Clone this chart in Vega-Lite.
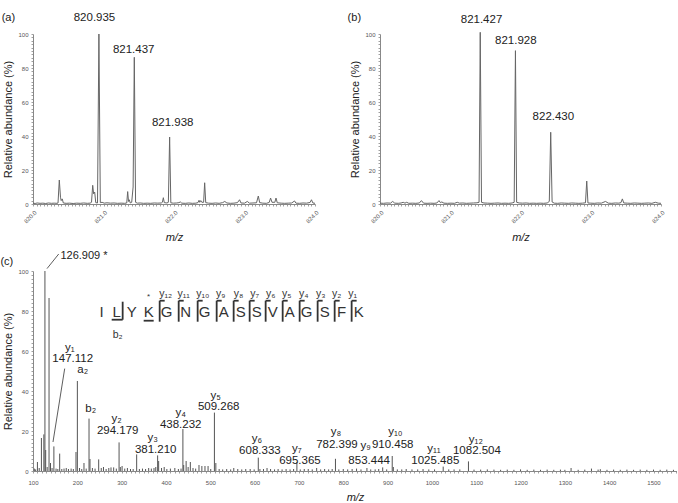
{
"$schema": "https://vega.github.io/schema/vega-lite/v6.json",
"padding": {"left": 0, "top": 12, "right": 0, "bottom": 0},
"config": {
  "view": {"stroke": null},
  "font": "Liberation Sans",
  "axis": {"grid": false, "domainColor": "#888", "domainWidth": 1, "tickColor": "#888", "tickSize": 2, "tickWidth": 0.8, "labelColor": "#555", "labelFont": "Liberation Sans", "labelFontSize": 6, "titleFont": "Liberation Sans", "titleFontSize": 11, "titleFontWeight": "normal", "titleColor": "#222", "labelOverlap": false},
  "text": {"font": "Liberation Sans", "color": "#222"}
},
"datasets": {
  "specA": [
{"mz":820.00,"ab":0.5},{"mz":820.03,"ab":0.3},{"mz":820.06,"ab":0.6},{"mz":820.10,"ab":0.4},{"mz":820.14,"ab":0.5},{"mz":820.18,"ab":0.3},{"mz":820.22,"ab":0.6},{"mz":820.26,"ab":0.4},{"mz":820.30,"ab":0.5},{"mz":820.34,"ab":0.4},{"mz":820.355,"ab":0.6},{"mz":820.373,"ab":14.1},{"mz":820.39,"ab":4},{"mz":820.40,"ab":2},{"mz":820.415,"ab":3},{"mz":820.43,"ab":0.6},{"mz":820.47,"ab":0.4},{"mz":820.52,"ab":0.5},{"mz":820.57,"ab":0.3},{"mz":820.62,"ab":0.5},{"mz":820.67,"ab":0.4},{"mz":820.72,"ab":0.6},{"mz":820.77,"ab":0.4},{"mz":820.81,"ab":0.5},{"mz":820.83,"ab":1},{"mz":820.847,"ab":11},{"mz":820.86,"ab":6},{"mz":820.875,"ab":7},{"mz":820.89,"ab":0.8},{"mz":820.915,"ab":0.6},{"mz":820.935,"ab":100},{"mz":820.955,"ab":0.8},{"mz":820.98,"ab":1},{"mz":821.01,"ab":0.5},{"mz":821.05,"ab":0.7},{"mz":821.10,"ab":0.5},{"mz":821.15,"ab":0.6},{"mz":821.20,"ab":0.4},{"mz":821.25,"ab":0.5},{"mz":821.30,"ab":0.4},{"mz":821.33,"ab":0.6},{"mz":821.343,"ab":7.3},{"mz":821.355,"ab":1.5},{"mz":821.365,"ab":2.5},{"mz":821.38,"ab":0.6},{"mz":821.40,"ab":1},{"mz":821.42,"ab":10},{"mz":821.437,"ab":86.3},{"mz":821.455,"ab":1},{"mz":821.48,"ab":0.5},{"mz":821.52,"ab":0.6},{"mz":821.57,"ab":0.4},{"mz":821.62,"ab":0.5},{"mz":821.67,"ab":0.4},{"mz":821.72,"ab":0.6},{"mz":821.77,"ab":0.5},{"mz":821.82,"ab":0.6},{"mz":821.835,"ab":1},{"mz":821.849,"ab":3.7},{"mz":821.862,"ab":0.8},{"mz":821.90,"ab":0.6},{"mz":821.92,"ab":1},{"mz":821.938,"ab":39.4},{"mz":821.955,"ab":0.7},{"mz":821.99,"ab":0.5},{"mz":822.04,"ab":0.6},{"mz":822.07,"ab":0.8},{"mz":822.09,"ab":1.2},{"mz":822.11,"ab":0.5},{"mz":822.16,"ab":0.4},{"mz":822.21,"ab":0.6},{"mz":822.26,"ab":0.4},{"mz":822.31,"ab":0.5},{"mz":822.34,"ab":0.8},{"mz":822.355,"ab":2.2},{"mz":822.365,"ab":1},{"mz":822.38,"ab":2},{"mz":822.395,"ab":1},{"mz":822.42,"ab":1},{"mz":822.435,"ab":12.5},{"mz":822.45,"ab":0.8},{"mz":822.49,"ab":0.5},{"mz":822.54,"ab":0.4},{"mz":822.59,"ab":0.6},{"mz":822.64,"ab":0.4},{"mz":822.69,"ab":0.8},{"mz":822.72,"ab":1.5},{"mz":822.75,"ab":0.6},{"mz":822.80,"ab":0.4},{"mz":822.85,"ab":0.5},{"mz":822.90,"ab":0.8},{"mz":822.93,"ab":2.5},{"mz":822.95,"ab":0.6},{"mz":823.00,"ab":0.5},{"mz":823.04,"ab":1.5},{"mz":823.07,"ab":0.5},{"mz":823.12,"ab":0.6},{"mz":823.17,"ab":0.7},{"mz":823.196,"ab":4.7},{"mz":823.215,"ab":0.8},{"mz":823.26,"ab":0.5},{"mz":823.31,"ab":0.4},{"mz":823.35,"ab":0.9},{"mz":823.37,"ab":3.5},{"mz":823.39,"ab":1},{"mz":823.43,"ab":1},{"mz":823.447,"ab":3.5},{"mz":823.465,"ab":0.7},{"mz":823.52,"ab":0.5},{"mz":823.57,"ab":0.4},{"mz":823.62,"ab":0.5},{"mz":823.67,"ab":0.6},{"mz":823.71,"ab":1.8},{"mz":823.73,"ab":0.5},{"mz":823.78,"ab":0.4},{"mz":823.83,"ab":0.6},{"mz":823.88,"ab":0.5},{"mz":823.93,"ab":0.9},{"mz":823.95,"ab":2.5},{"mz":823.97,"ab":0.6},{"mz":824.00,"ab":0.4}
  ],
  "specB": [
{"mz":820.00,"ab":0.5},{"mz":820.05,"ab":0.4},{"mz":820.10,"ab":0.6},{"mz":820.15,"ab":0.5},{"mz":820.18,"ab":1.5},{"mz":820.21,"ab":0.5},{"mz":820.26,"ab":0.4},{"mz":820.30,"ab":0.6},{"mz":820.33,"ab":1},{"mz":820.355,"ab":0.5},{"mz":820.38,"ab":1},{"mz":820.41,"ab":0.4},{"mz":820.46,"ab":0.5},{"mz":820.51,"ab":0.4},{"mz":820.56,"ab":0.6},{"mz":820.59,"ab":2},{"mz":820.62,"ab":0.5},{"mz":820.67,"ab":0.4},{"mz":820.72,"ab":0.5},{"mz":820.77,"ab":0.4},{"mz":820.81,"ab":0.6},{"mz":820.84,"ab":2},{"mz":820.86,"ab":0.8},{"mz":820.88,"ab":1.2},{"mz":820.91,"ab":0.5},{"mz":820.96,"ab":0.4},{"mz":821.01,"ab":0.5},{"mz":821.06,"ab":0.4},{"mz":821.10,"ab":1},{"mz":821.13,"ab":0.5},{"mz":821.18,"ab":0.6},{"mz":821.23,"ab":0.4},{"mz":821.28,"ab":0.5},{"mz":821.33,"ab":0.6},{"mz":821.38,"ab":0.7},{"mz":821.41,"ab":1},{"mz":821.427,"ab":101},{"mz":821.445,"ab":1},{"mz":821.48,"ab":0.6},{"mz":821.53,"ab":0.5},{"mz":821.58,"ab":0.4},{"mz":821.63,"ab":0.5},{"mz":821.68,"ab":0.6},{"mz":821.73,"ab":0.4},{"mz":821.78,"ab":0.5},{"mz":821.83,"ab":0.4},{"mz":821.88,"ab":0.6},{"mz":821.91,"ab":1},{"mz":821.928,"ab":90.2},{"mz":821.945,"ab":1},{"mz":821.98,"ab":0.6},{"mz":822.03,"ab":0.5},{"mz":822.08,"ab":0.6},{"mz":822.13,"ab":0.4},{"mz":822.18,"ab":0.5},{"mz":822.23,"ab":0.4},{"mz":822.28,"ab":0.5},{"mz":822.33,"ab":0.4},{"mz":822.38,"ab":0.6},{"mz":822.41,"ab":1.5},{"mz":822.43,"ab":42.2},{"mz":822.45,"ab":1.2},{"mz":822.48,"ab":0.5},{"mz":822.53,"ab":0.4},{"mz":822.58,"ab":0.6},{"mz":822.63,"ab":0.5},{"mz":822.68,"ab":0.4},{"mz":822.73,"ab":0.6},{"mz":822.78,"ab":0.5},{"mz":822.83,"ab":0.4},{"mz":822.88,"ab":0.5},{"mz":822.925,"ab":0.7},{"mz":822.943,"ab":13.5},{"mz":822.96,"ab":0.6},{"mz":823.00,"ab":0.5},{"mz":823.05,"ab":0.4},{"mz":823.10,"ab":0.6},{"mz":823.15,"ab":0.5},{"mz":823.21,"ab":1.5},{"mz":823.25,"ab":0.5},{"mz":823.30,"ab":0.4},{"mz":823.35,"ab":0.6},{"mz":823.40,"ab":0.5},{"mz":823.43,"ab":0.8},{"mz":823.45,"ab":3},{"mz":823.47,"ab":0.6},{"mz":823.52,"ab":0.5},{"mz":823.57,"ab":0.4},{"mz":823.62,"ab":0.6},{"mz":823.67,"ab":0.5},{"mz":823.72,"ab":0.4},{"mz":823.77,"ab":0.5},{"mz":823.82,"ab":0.6},{"mz":823.87,"ab":0.4},{"mz":823.92,"ab":1},{"mz":823.96,"ab":0.5},{"mz":824.00,"ab":0.4}
  ],
  "labelsA": [
    {"mz":820.872,"ab":109.2,"label":"820.935"},
    {"mz":821.428,"ab":90.6,"label":"821.437"},
    {"mz":821.981,"ab":47.8,"label":"821.938"}
  ],
  "labelsB": [
    {"mz":821.445,"ab":108.4,"label":"821.427"},
    {"mz":821.933,"ab":96,"label":"821.928"},
    {"mz":822.468,"ab":51,"label":"822.430"}
  ],
  "tagA": [{"mz":819.556,"ab":109.4,"label":"(a)"}],
  "tagB": [{"mz":819.539,"ab":109.2,"label":"(b)"}],
  "leftC": [
    {"mz":26.5,"ab":104.5,"label":"(c)"},
    {"mz":161.8,"ab":107.5,"label":"126.909 *"}
  ],
  "sticks": [
{"mz":103,"ab":1.2},{"mz":106,"ab":0.8},{"mz":110,"ab":4.5},{"mz":114,"ab":1.5},{"mz":119,"ab":16.5},{"mz":124.5,"ab":18.3},{"mz":126.9,"ab":100},{"mz":128.6,"ab":10.5},{"mz":132,"ab":2},{"mz":136.2,"ab":86.5},{"mz":139.5,"ab":4},{"mz":143,"ab":1.5},{"mz":147.1,"ab":12.3},{"mz":152,"ab":1.2},{"mz":156,"ab":1},{"mz":160.2,"ab":8.7},{"mz":165,"ab":1},{"mz":170,"ab":1.2},{"mz":175,"ab":1.5},{"mz":180,"ab":1},{"mz":186,"ab":1.2},{"mz":191,"ab":1},{"mz":197,"ab":9.5},{"mz":200.1,"ab":45},{"mz":205,"ab":1.5},{"mz":210,"ab":1},{"mz":215,"ab":4},{"mz":220,"ab":1.2},{"mz":226.4,"ab":26.2},{"mz":228.6,"ab":6},{"mz":234,"ab":1.5},{"mz":240,"ab":1.2},{"mz":248.2,"ab":5.8},{"mz":254,"ab":1.5},{"mz":259,"ab":2},{"mz":265,"ab":1},{"mz":271,"ab":1.5},{"mz":276,"ab":1.8},{"mz":282,"ab":1.8},{"mz":288,"ab":1.2},{"mz":294.2,"ab":14.3},{"mz":297,"ab":2},{"mz":301,"ab":2.5},{"mz":307,"ab":1.2},{"mz":313,"ab":1.5},{"mz":320,"ab":1},{"mz":326,"ab":1},{"mz":333.9,"ab":8.3},{"mz":340,"ab":1},{"mz":347,"ab":1.2},{"mz":354,"ab":1},{"mz":361,"ab":1.5},{"mz":367,"ab":1.2},{"mz":373,"ab":1.5},{"mz":377,"ab":2},{"mz":381.2,"ab":7.8},{"mz":383.5,"ab":5},{"mz":390,"ab":1.5},{"mz":396,"ab":2},{"mz":402,"ab":1},{"mz":410,"ab":1.2},{"mz":420,"ab":1.5},{"mz":428,"ab":1},{"mz":434,"ab":1.2},{"mz":438.2,"ab":21},{"mz":440,"ab":3},{"mz":445.5,"ab":5},{"mz":450,"ab":2},{"mz":455,"ab":4.5},{"mz":461,"ab":1.5},{"mz":467,"ab":1.2},{"mz":474.5,"ab":3},{"mz":481,"ab":2.5},{"mz":488,"ab":2.5},{"mz":495,"ab":2.5},{"mz":501,"ab":1},{"mz":509.3,"ab":29.2},{"mz":512.5,"ab":4},{"mz":520,"ab":1},{"mz":528,"ab":0.8},{"mz":537,"ab":1},{"mz":546,"ab":0.8},{"mz":553,"ab":1.5},{"mz":562,"ab":1},{"mz":571,"ab":0.8},{"mz":580,"ab":1},{"mz":590,"ab":1},{"mz":599,"ab":0.8},{"mz":608.3,"ab":6.7},{"mz":612,"ab":1},{"mz":620,"ab":1},{"mz":628,"ab":1.5},{"mz":636,"ab":1},{"mz":645,"ab":0.8},{"mz":653,"ab":1},{"mz":662,"ab":0.8},{"mz":671,"ab":1},{"mz":680,"ab":0.8},{"mz":688,"ab":1},{"mz":695.4,"ab":4.5},{"mz":703,"ab":0.8},{"mz":712,"ab":1},{"mz":721,"ab":1},{"mz":730,"ab":0.8},{"mz":740,"ab":1.5},{"mz":749,"ab":0.8},{"mz":758,"ab":1},{"mz":767,"ab":0.8},{"mz":775,"ab":1},{"mz":782.4,"ab":6.1},{"mz":790,"ab":0.8},{"mz":800,"ab":1},{"mz":810,"ab":0.8},{"mz":820,"ab":1},{"mz":830,"ab":1.2},{"mz":840,"ab":0.8},{"mz":853.4,"ab":1.5},{"mz":862,"ab":0.8},{"mz":872,"ab":0.8},{"mz":880,"ab":1},{"mz":889,"ab":1.8},{"mz":898,"ab":0.8},{"mz":910.5,"ab":7.5},{"mz":913,"ab":2},{"mz":922,"ab":0.8},{"mz":932,"ab":0.8},{"mz":942,"ab":1},{"mz":955,"ab":0.8},{"mz":968,"ab":0.8},{"mz":980,"ab":1},{"mz":993,"ab":0.8},{"mz":1006,"ab":0.8},{"mz":1025.5,"ab":2.2},{"mz":1038,"ab":0.8},{"mz":1050,"ab":0.8},{"mz":1063,"ab":0.8},{"mz":1082.5,"ab":4.8},{"mz":1095,"ab":0.7},{"mz":1110,"ab":0.7},{"mz":1125,"ab":0.8},{"mz":1140,"ab":0.7},{"mz":1155,"ab":0.6},{"mz":1170,"ab":0.7},{"mz":1185,"ab":0.6},{"mz":1200,"ab":0.8},{"mz":1215,"ab":0.6},{"mz":1230,"ab":0.7},{"mz":1245,"ab":0.6},{"mz":1260,"ab":0.7},{"mz":1275,"ab":0.6},{"mz":1290,"ab":0.7},{"mz":1300,"ab":0.6},{"mz":1314,"ab":1.5},{"mz":1330,"ab":0.6},{"mz":1345,"ab":0.7},{"mz":1360,"ab":1.2},{"mz":1375,"ab":0.7},{"mz":1380,"ab":0.9},{"mz":1395,"ab":0.6},{"mz":1410,"ab":0.7},{"mz":1425,"ab":0.6},{"mz":1440,"ab":0.7},{"mz":1455,"ab":0.6},{"mz":1470,"ab":0.7},{"mz":1485,"ab":0.6},{"mz":1500,"ab":0.7},{"mz":1515,"ab":0.6},{"mz":1530,"ab":0.7},{"mz":1545,"ab":0.6}
  ],
  "ionLabels": [
    {"mz":182.8,"ab":61.65,"label":"y₁"},
    {"mz":189.6,"ab":55.8,"label":"147.112"},
    {"mz":212.1,"ab":50.3,"label":"a₂"},
    {"mz":230.2,"ab":31.15,"label":"b₂"},
    {"mz":288.8,"ab":25.8,"label":"y₂"},
    {"mz":291.1,"ab":19.8,"label":"294.179"},
    {"mz":370,"ab":16.5,"label":"y₃"},
    {"mz":376.8,"ab":10.3,"label":"381.210"},
    {"mz":433.2,"ab":29.15,"label":"y₄"},
    {"mz":433.2,"ab":23.15,"label":"438.232"},
    {"mz":512.1,"ab":37.5,"label":"y₅"},
    {"mz":518.9,"ab":32,"label":"509.268"},
    {"mz":605.1,"ab":15.8,"label":"y₆"},
    {"mz":611.9,"ab":9.8,"label":"608.333"},
    {"mz":695.4,"ab":11.15,"label":"y₇"},
    {"mz":702.2,"ab":5.15,"label":"695.365"},
    {"mz":783.4,"ab":19.5,"label":"y₈"},
    {"mz":785.7,"ab":13.15,"label":"782.399"},
    {"mz":850.5,"ab":12.65,"label":"y₉"},
    {"mz":858.4,"ab":5,"label":"853.444"},
    {"mz":917.5,"ab":19.5,"label":"y₁₀"},
    {"mz":911.5,"ab":13.15,"label":"910.458"},
    {"mz":1004.6,"ab":11.15,"label":"y₁₁"},
    {"mz":1007.7,"ab":5,"label":"1025.485"},
    {"mz":1099.3,"ab":15.3,"label":"y₁₂"},
    {"mz":1101.6,"ab":9.8,"label":"1082.504"}
  ],
  "leaders": [
    {"mz":131.6,"ab":101.2,"mz2":158,"ab2":108.5},
    {"mz":171.5,"ab":51.2,"mz2":145.1,"ab2":14.5}
  ],
  "seq": [
    {"mz":255,"label":"I"},{"mz":288.9,"label":"L"},{"mz":322.7,"label":"Y"},{"mz":361,"label":"K"},
    {"mz":401.6,"label":"G"},{"mz":444.5,"label":"N"},{"mz":487.3,"label":"G"},{"mz":530.2,"label":"A"},
    {"mz":568.5,"label":"S"},{"mz":604.6,"label":"S"},{"mz":640.7,"label":"V"},{"mz":679.1,"label":"A"},
    {"mz":717.4,"label":"G"},{"mz":758,"label":"S"},{"mz":796.4,"label":"F"},{"mz":834.7,"label":"K"}
  ],
  "seqIons": [
    {"mz":399.4,"ab":88.65,"label":"y₁₂"},{"mz":440,"ab":88.65,"label":"y₁₁"},{"mz":482.9,"ab":88.65,"label":"y₁₀"},
    {"mz":523.5,"ab":88.65,"label":"y₉"},{"mz":564,"ab":88.65,"label":"y₈"},{"mz":600.2,"ab":88.65,"label":"y₇"},
    {"mz":636.3,"ab":88.65,"label":"y₆"},{"mz":672.4,"ab":88.65,"label":"y₅"},{"mz":710.7,"ab":88.65,"label":"y₄"},
    {"mz":749.1,"ab":88.65,"label":"y₃"},{"mz":785.2,"ab":88.65,"label":"y₂"},{"mz":821.3,"ab":88.65,"label":"y₁"},
    {"mz":291.1,"ab":68,"label":"b₂"}
  ],
  "star": [{"mz":361,"ab":87,"label":"*"}],
  "brackets": [
    {"mz":385.8,"mz2":385.8,"ab":74.65,"ab2":85.15},{"mz":385.8,"mz2":397.1,"ab":85.15,"ab2":85.15},
    {"mz":428.7,"mz2":428.7,"ab":74.65,"ab2":85.15},{"mz":428.7,"mz2":440.0,"ab":85.15,"ab2":85.15},
    {"mz":471.5,"mz2":471.5,"ab":74.65,"ab2":85.15},{"mz":471.5,"mz2":482.8,"ab":85.15,"ab2":85.15},
    {"mz":514.4,"mz2":514.4,"ab":74.65,"ab2":85.15},{"mz":514.4,"mz2":525.7,"ab":85.15,"ab2":85.15},
    {"mz":552.7,"mz2":552.7,"ab":74.65,"ab2":85.15},{"mz":552.7,"mz2":564.0,"ab":85.15,"ab2":85.15},
    {"mz":588.8,"mz2":588.8,"ab":74.65,"ab2":85.15},{"mz":588.8,"mz2":600.1,"ab":85.15,"ab2":85.15},
    {"mz":624.9,"mz2":624.9,"ab":74.65,"ab2":85.15},{"mz":624.9,"mz2":636.2,"ab":85.15,"ab2":85.15},
    {"mz":663.3,"mz2":663.3,"ab":74.65,"ab2":85.15},{"mz":663.3,"mz2":674.6,"ab":85.15,"ab2":85.15},
    {"mz":701.6,"mz2":701.6,"ab":74.65,"ab2":85.15},{"mz":701.6,"mz2":712.9,"ab":85.15,"ab2":85.15},
    {"mz":742.2,"mz2":742.2,"ab":74.65,"ab2":85.15},{"mz":742.2,"mz2":753.5,"ab":85.15,"ab2":85.15},
    {"mz":780.6,"mz2":780.6,"ab":74.65,"ab2":85.15},{"mz":780.6,"mz2":791.9,"ab":85.15,"ab2":85.15},
    {"mz":818.9,"mz2":818.9,"ab":74.65,"ab2":85.15},{"mz":818.9,"mz2":830.2,"ab":85.15,"ab2":85.15},
    {"mz":302.3,"mz2":302.3,"ab":75.65,"ab2":84.65},{"mz":277.5,"mz2":302.3,"ab":75.65,"ab2":75.65},
    {"mz":349.7,"mz2":372.3,"ab":75.15,"ab2":75.15}
  ]
},
"spacing": 7,
"vconcat": [
  {
    "spacing": 27,
    "hconcat": [
      {
        "width": 282, "height": 170,
        "layer": [
          {
            "data": {"name": "specA"},
            "mark": {"type": "line", "color": "#666", "strokeWidth": 1},
            "encoding": {
              "x": {"field": "mz", "type": "quantitative", "scale": {"domain": [820, 824], "nice": false, "zero": false},
                    "axis": {"title": "m/z", "titleFontStyle": "italic", "tickCount": 80, "labelExpr": "abs(datum.value - round(datum.value)) < 0.001 ? format(datum.value, '.1f') : ''", "labelAngle": -45, "labelAlign": "right", "labelBaseline": "top", "labelPadding": 3, "titlePadding": 8, "labelFlush": false}},
              "y": {"field": "ab", "type": "quantitative", "scale": {"domain": [0, 100], "nice": false},
                    "axis": {"title": "Relative abundance (%)", "tickCount": 50, "labelExpr": "datum.value % 20 == 0 ? datum.label : ''", "labelPadding": 3, "titlePadding": 4}}
            }
          },
          {
            "data": {"name": "labelsA"},
            "mark": {"type": "text", "fontSize": 11.5},
            "encoding": {"x": {"field": "mz", "type": "quantitative"}, "y": {"field": "ab", "type": "quantitative"}, "text": {"field": "label"}}
          },
          {
            "data": {"name": "tagA"},
            "mark": {"type": "text", "fontSize": 11, "align": "left"},
            "encoding": {"x": {"field": "mz", "type": "quantitative"}, "y": {"field": "ab", "type": "quantitative"}, "text": {"field": "label"}}
          }
        ]
      },
      {
        "width": 281, "height": 170,
        "layer": [
          {
            "data": {"name": "specB"},
            "mark": {"type": "line", "color": "#666", "strokeWidth": 1},
            "encoding": {
              "x": {"field": "mz", "type": "quantitative", "scale": {"domain": [820, 824], "nice": false, "zero": false},
                    "axis": {"title": "m/z", "titleFontStyle": "italic", "tickCount": 80, "labelExpr": "abs(datum.value - round(datum.value)) < 0.001 ? format(datum.value, '.1f') : ''", "labelAngle": -45, "labelAlign": "right", "labelBaseline": "top", "labelPadding": 3, "titlePadding": 8, "labelFlush": false}},
              "y": {"field": "ab", "type": "quantitative", "scale": {"domain": [0, 100], "nice": false},
                    "axis": {"title": "Relative abundance (%)", "tickCount": 50, "labelExpr": "datum.value % 20 == 0 ? datum.label : ''", "labelPadding": 3, "titlePadding": 4}}
            }
          },
          {
            "data": {"name": "labelsB"},
            "mark": {"type": "text", "fontSize": 11.5},
            "encoding": {"x": {"field": "mz", "type": "quantitative"}, "y": {"field": "ab", "type": "quantitative"}, "text": {"field": "label"}}
          },
          {
            "data": {"name": "tagB"},
            "mark": {"type": "text", "fontSize": 11, "align": "left"},
            "encoding": {"x": {"field": "mz", "type": "quantitative"}, "y": {"field": "ab", "type": "quantitative"}, "text": {"field": "label"}}
          }
        ]
      }
    ]
  },
  {
    "width": 644, "height": 200,
    "layer": [
      {
        "data": {"name": "sticks"},
        "mark": {"type": "rule", "color": "#555", "strokeWidth": 1},
        "encoding": {
          "x": {"field": "mz", "type": "quantitative", "scale": {"domain": [100, 1553], "nice": false, "zero": false},
                "axis": {"title": "m/z", "titleFontStyle": "italic", "tickCount": 145, "format": "d", "labelExpr": "datum.value % 100 == 0 ? datum.label : ''", "labelFlush": false, "labelPadding": 6, "titlePadding": 6}},
          "y": {"field": "ab", "type": "quantitative", "scale": {"domain": [0, 100], "nice": false},
                "axis": {"title": "Relative abundance (%)", "tickCount": 50, "labelExpr": "datum.value % 20 == 0 ? datum.label : ''", "labelPadding": 3, "titlePadding": 4}},
          "y2": {"datum": 0}
        }
      },
      {
        "data": {"name": "leaders"},
        "mark": {"type": "rule", "color": "#333", "strokeWidth": 0.8},
        "encoding": {
          "x": {"field": "mz", "type": "quantitative"}, "y": {"field": "ab", "type": "quantitative"},
          "x2": {"field": "mz2"}, "y2": {"field": "ab2"}
        }
      },
      {
        "data": {"name": "brackets"},
        "mark": {"type": "rule", "color": "#333", "strokeWidth": 1.8},
        "encoding": {
          "x": {"field": "mz", "type": "quantitative"}, "y": {"field": "ab", "type": "quantitative"},
          "x2": {"field": "mz2"}, "y2": {"field": "ab2"}
        }
      },
      {
        "data": {"name": "ionLabels"},
        "mark": {"type": "text", "fontSize": 11.5},
        "encoding": {"x": {"field": "mz", "type": "quantitative"}, "y": {"field": "ab", "type": "quantitative"}, "text": {"field": "label"}}
      },
      {
        "data": {"name": "leftC"},
        "mark": {"type": "text", "fontSize": 11, "align": "left"},
        "encoding": {"x": {"field": "mz", "type": "quantitative"}, "y": {"field": "ab", "type": "quantitative"}, "text": {"field": "label"}}
      },
      {
        "data": {"name": "seq"},
        "mark": {"type": "text", "fontSize": 15, "color": "#333"},
        "encoding": {"x": {"field": "mz", "type": "quantitative"}, "y": {"datum": 79.65, "type": "quantitative"}, "text": {"field": "label"}}
      },
      {
        "data": {"name": "seqIons"},
        "mark": {"type": "text", "fontSize": 10.5, "color": "#333"},
        "encoding": {"x": {"field": "mz", "type": "quantitative"}, "y": {"field": "ab", "type": "quantitative"}, "text": {"field": "label"}}
      },
      {
        "data": {"name": "star"},
        "mark": {"type": "text", "fontSize": 8, "color": "#333"},
        "encoding": {"x": {"field": "mz", "type": "quantitative"}, "y": {"field": "ab", "type": "quantitative"}, "text": {"field": "label"}}
      }
    ]
  }
]
}
